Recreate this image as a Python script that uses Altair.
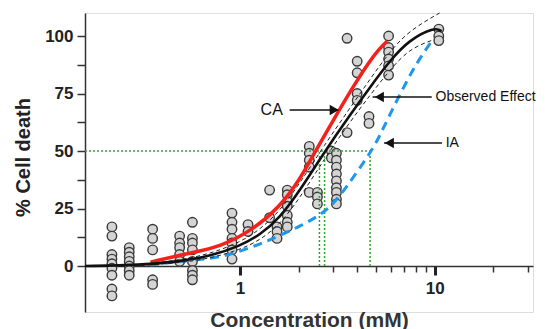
import altair as alt
import pandas as pd

FONT = "Liberation Sans, Arial, Helvetica, sans-serif"

# ---- scattered replicate measurements (concentration, % cell death) ----
point_conc = [0.22, 0.27, 0.356, 0.49, 0.57, 0.91, 1.1, 1.42, 1.55, 1.75,
              2.27, 2.5, 2.95, 3.13, 3.55, 4.0, 4.6, 5.8, 10.5]
point_vals = [
    [17, 13, 5, 3, 1, -1, -4, -10, -13],
    [8, 6, 4, 2, 0, -2, -4],
    [16, 12, 7, -6, -8],
    [13, 10, 8, 5, 2],
    [19, 12, 10, 7, 2, -2, -4, -6],
    [23, 19, 16, 12, 10, 7, 3],
    [18, 15],
    [33, 21],
    [17, 15, 12],
    [33, 31, 28, 26, 22, 19, 17],
    [52, 49, 46, 43, 32],
    [32, 30, 27],
    [50, 47],
    [49, 46, 43, 40, 37, 34, 32, 29, 27],
    [99, 58],
    [89, 84, 75, 72],
    [65, 62],
    [100, 95, 93, 90, 87, 83],
    [103, 100, 98],
]

# ---- curves ----
obs_conc = [0.16, 0.309, 0.494, 0.703, 1.0, 1.265, 1.6, 2.024, 2.716, 3.64, 4.71, 5.82, 7.37, 10.1, 10.84]
obs_vals = [0, 0.4, 2, 4.3, 8.7, 13.5, 20.9, 32.6, 49.6, 65.2, 78.3, 88.7, 98.3, 104, 102]

upper_conc = [0.309, 0.494, 0.703, 1.0, 1.265, 1.6, 2.024, 2.716, 3.64, 4.71, 5.82, 7.37, 10.6]
upper_vals = [0.6, 2.6, 5.3, 10.3, 15.8, 23.8, 35.8, 52.6, 68.2, 81.8, 92.7, 102.3, 110]

lower_conc = [0.309, 0.494, 0.703, 1.0, 1.265, 1.6, 2.024, 2.716, 3.64, 4.71, 5.82, 7.37, 9.6]
lower_vals = [0.2, 1.4, 3.3, 7.1, 11.2, 18.0, 29.4, 46.6, 62.2, 74.8, 84.7, 94.3, 98]

ca_conc = [0.347, 0.556, 0.79, 1.165, 1.6, 2.024, 2.41, 3.23, 3.86, 4.6, 5.18, 5.7]
ca_vals = [1.7, 5.7, 8.3, 15.7, 25.7, 37.4, 49.1, 67.8, 78.7, 88.7, 94.3, 97.8]

ia_conc = [0.347, 0.556, 0.79, 1.165, 1.544, 2.096, 2.56, 2.98, 3.51, 4.71, 5.18, 5.82, 7.1, 8.27, 9.88]
ia_vals = [0.4, 2.6, 3.5, 8.3, 12.6, 17.8, 22, 26.5, 34, 49.6, 56, 65, 79.6, 89.6, 99]

# ---- EC50 guide lines ----
ec50_level = [50]
ec50_conc = [2.56, 2.72, 4.66]
axis_min = 0.16

# ---- annotations ----
ann_text = ["CA", "Observed Effect", "IA"]
ann_text_x = [1.66, 10.1, 11.4]
ann_y = [67.8, 73.5, 53.5]
ann_align = ["right", "left", "left"]
arrow_from = [1.8, 9.66, 10.9]
arrow_to = [3.2, 4.8, 5.5]
arrow_head_x = [3.05, 5.2, 5.85]
arrow_shape = ["triangle-right", "triangle-left", "triangle-left"]

xdom = [0.16, 32]
ydom = [-20, 110]
xs = alt.Scale(type="log", domain=xdom, nice=False)
ys = alt.Scale(domain=ydom, nice=False, zero=False)

pts = pd.DataFrame(
    [{"conc": c, "val": v} for c, vs in zip(point_conc, point_vals) for v in vs]
)

def curve_df(cs, vs):
    return pd.DataFrame({"conc": cs, "val": vs})

major_x_axis = alt.Axis(
    orient="bottom",
    values=[1, 10], labelExpr="datum.value", tickSize=9, tickWidth=3,
    tickColor="#222", labelFontSize=17, labelFontWeight="bold", labelPadding=5,
    labelColor="#222", domainWidth=1.5, domainColor="#333", grid=False,
    title="Concentration (mM)", titleFontSize=21, titleFontWeight="bold",
    titleColor="#333", titlePadding=13, offset=-46, labelFont=FONT, titleFont=FONT,
)
minor_x_axis = alt.Axis(
    orient="bottom",
    values=[2, 3, 4, 5, 6, 7, 8, 9, 20, 30], labels=False, tickSize=6,
    tickWidth=1.5, tickColor="#333", domain=False, grid=False, title="",
    offset=-46,
)
y_axis = alt.Axis(
    orient="left",
    values=[0, 12.5, 25, 37.5, 50, 62.5, 75, 87.5, 100],
    labelExpr="datum.value % 25 == 0 ? datum.label : ''",
    tickSize=8, tickWidth=1.5, tickColor="#333", domainWidth=1.5,
    domainColor="#333", labelFontSize=17, labelFontWeight="bold",
    labelColor="#222", labelPadding=4, grid=False, title="% Cell death",
    titleFontSize=20, titleFontWeight="bold", titleColor="#222",
    titlePadding=11, titleY=144, labelFont=FONT, titleFont=FONT,
)

points = alt.Chart(pts).mark_point(
    filled=True, size=90, fill="#d4d4d4", stroke="#3a3a3a", strokeWidth=1.4,
    opacity=1, fillOpacity=1,
).encode(
    x=alt.X("conc:Q", scale=xs, axis=major_x_axis),
    y=alt.Y("val:Q", scale=ys, axis=y_axis),
)

def line(df, color, width, dash=None, axis=None):
    kw = dict(color=color, strokeWidth=width, interpolate="basis")
    if dash:
        kw["strokeDash"] = dash
    if axis is not None:
        xenc = alt.X("conc:Q", scale=xs, axis=axis)
    else:
        xenc = alt.X("conc:Q", scale=xs, axis=None)
    return alt.Chart(df).mark_line(**kw).encode(
        x=xenc, y=alt.Y("val:Q", scale=ys, axis=None), order="conc:Q"
    )

green = "#2ea52e"
hline = alt.Chart(pd.DataFrame({"x1": [axis_min], "x2": [max(ec50_conc)], "y": ec50_level})).mark_rule(
    color=green, strokeWidth=1.5, strokeDash=[2, 2]
).encode(
    x=alt.X("x1:Q", scale=xs, axis=None), x2="x2:Q",
    y=alt.Y("y:Q", scale=ys, axis=None),
)
vlines = alt.Chart(pd.DataFrame({"x": ec50_conc, "y1": [0] * 3, "y2": ec50_level * 3})).mark_rule(
    color=green, strokeWidth=1.5, strokeDash=[2, 2]
).encode(
    x=alt.X("x:Q", scale=xs, axis=None),
    y=alt.Y("y1:Q", scale=ys, axis=None), y2="y2:Q",
)

ia = line(curve_df(ia_conc, ia_vals), "#1f97ee", 3, dash=[9, 6])
ca = line(curve_df(ca_conc, ca_vals), "#f5201a", 3.5)
upper = line(curve_df(upper_conc, upper_vals), "#222", 1, dash=[4, 3])
lower = line(curve_df(lower_conc, lower_vals), "#222", 1, dash=[4, 3])
obs = line(curve_df(obs_conc, obs_vals), "#111", 2.6, axis=minor_x_axis)

ann = pd.DataFrame({
    "text": ann_text, "tx": ann_text_x, "y": ann_y, "align": ann_align,
    "a1": arrow_from, "a2": arrow_to, "hx": arrow_head_x, "shape": arrow_shape,
})
shafts = alt.Chart(ann).mark_rule(color="#111", strokeWidth=1.6).encode(
    x=alt.X("a1:Q", scale=xs, axis=None), x2="a2:Q",
    y=alt.Y("y:Q", scale=ys, axis=None),
)
heads = alt.Chart(ann).mark_point(filled=True, color="#111", size=110, opacity=1).encode(
    x=alt.X("hx:Q", scale=xs, axis=None),
    y=alt.Y("y:Q", scale=ys, axis=None),
    shape=alt.Shape("shape:N", scale=None, legend=None),
)
labels_r = alt.Chart(ann[ann["align"] == "right"]).mark_text(
    align="right", baseline="middle", fontSize=16, font=FONT, color="#111"
).encode(
    x=alt.X("tx:Q", scale=xs, axis=None), y=alt.Y("y:Q", scale=ys, axis=None), text="text:N"
)
labels_l = alt.Chart(ann[ann["align"] == "left"]).mark_text(
    align="left", baseline="middle", fontSize=14, font=FONT, color="#111"
).encode(
    x=alt.X("tx:Q", scale=xs, axis=None), y=alt.Y("y:Q", scale=ys, axis=None), text="text:N"
)

chart = alt.layer(
    points, hline, vlines, ia, ca, upper, lower, obs, shafts, heads, labels_r, labels_l
).resolve_axis(x="independent", y="independent").properties(
    width=448, height=299,
    autosize=alt.AutoSizeParams(type="none"),
    padding={"left": 77, "top": 5, "right": 5, "bottom": 30},
).configure_view(strokeWidth=0).configure(font=FONT)

chart.save("out.html", embed_options={"renderer": "svg", "actions": False})
